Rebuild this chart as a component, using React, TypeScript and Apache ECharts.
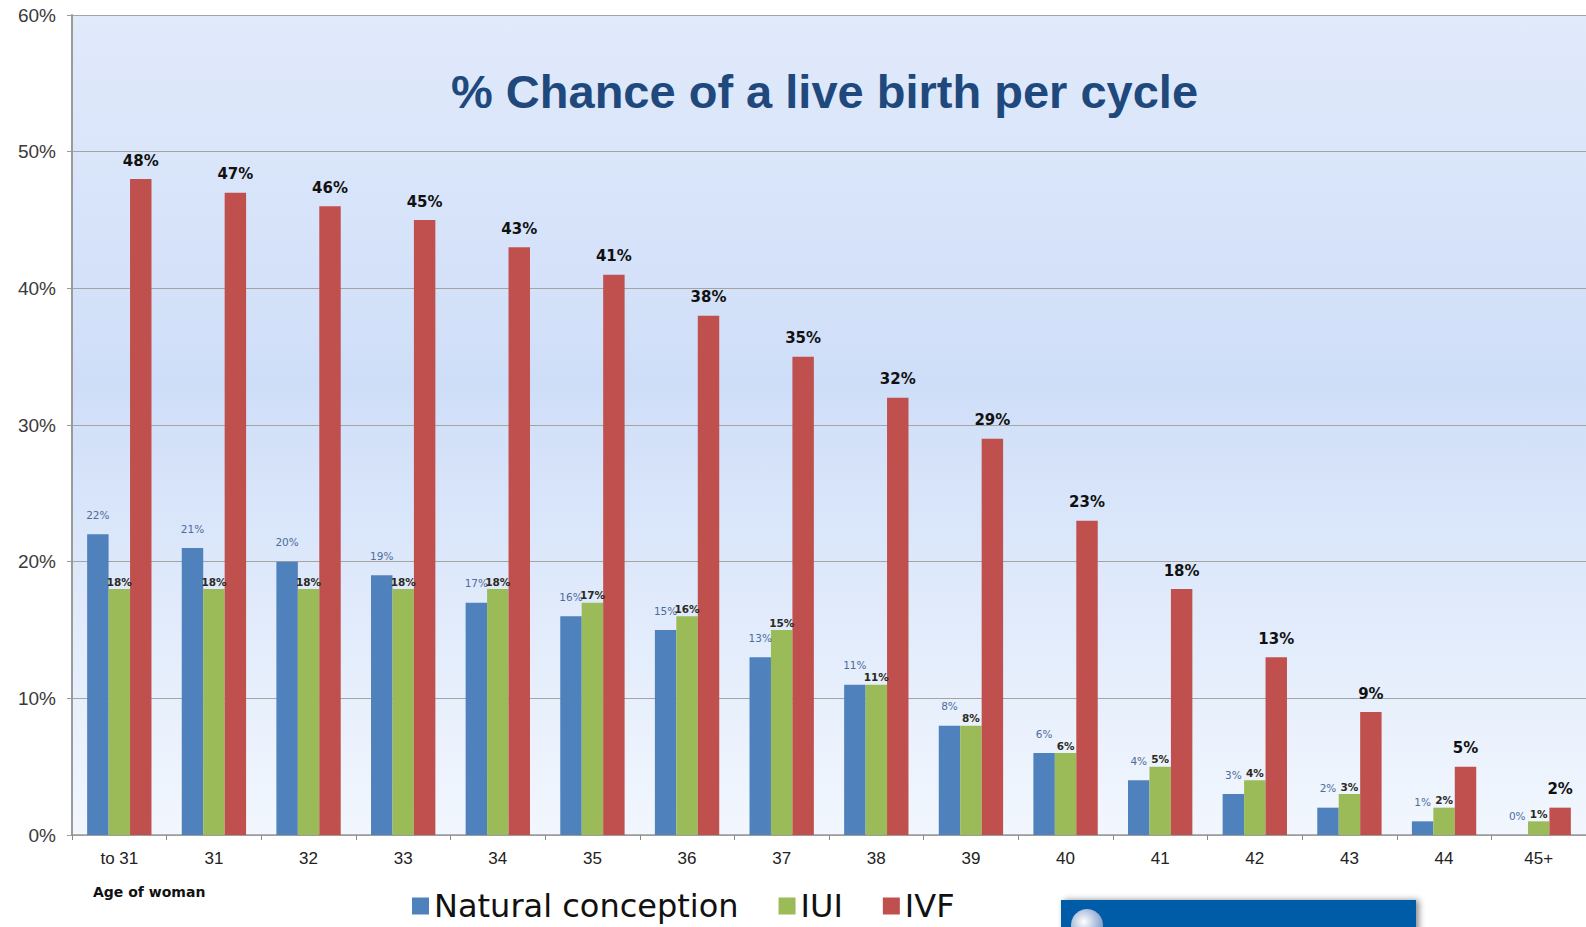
import React, { useEffect, useRef } from "react";
import * as echarts from "echarts";

const ages = ["to 31", "31", "32", "33", "34", "35", "36", "37", "38", "39", "40", "41", "42", "43", "44", "45+"];
const natural = [22, 21, 20, 19, 17, 16, 15, 13, 11, 8, 6, 4, 3, 2, 1, 0];
const iui = [18, 18, 18, 18, 18, 17, 16, 15, 11, 8, 6, 5, 4, 3, 2, 1];
const ivf = [48, 47, 46, 45, 43, 41, 38, 35, 32, 29, 23, 18, 13, 9, 5, 2];
const seriesNames = ["Natural conception", "IUI", "IVF"];
const titleText = "% Chance of a live birth per cycle";
const xAxisTitle = "Age of woman";

export default function App() {
  const ref = useRef<HTMLDivElement>(null);
  useEffect(() => {
    if (!ref.current) return;
    const chart = echarts.init(ref.current, null, { renderer: "svg" });
    const gridBg = new echarts.graphic.LinearGradient(0, 0, 0, 1, [
      { offset: 0, color: "#e1eafb" },
      { offset: 0.45, color: "#cfdef8" },
      { offset: 1, color: "#f2f7fe" },
    ]);
    chart.setOption({
      animation: false,
      backgroundColor: "#ffffff",
      title: {
        text: titleText,
        left: 446,
        top: 63,
        textStyle: {
          fontFamily: "Liberation Sans, Arial, sans-serif",
          fontSize: 47,
          fontWeight: "bold",
          color: "#1f497d",
        },
      },
      legend: {
        data: seriesNames,
        left: 412,
        top: 890,
        icon: "rect",
        itemWidth: 17,
        itemHeight: 17,
        itemGap: 40,
        padding: 0,
        textStyle: { fontFamily: "DejaVu Sans, sans-serif", fontSize: 32, color: "#111111" },
      },
      grid: {
        left: 72,
        right: 0,
        top: 15,
        bottom: 92,
        show: true,
        backgroundColor: gridBg,
        borderWidth: 0,
      },
      xAxis: {
        type: "category",
        data: ages,
        boundaryGap: true,
        axisLine: { show: true, lineStyle: { color: "#9a9a9a", width: 1.5 } },
        axisTick: { show: true, length: 5, interval: 0, lineStyle: { color: "#8a8a8a" } },
        axisLabel: {
          interval: 0,
          margin: 15,
          fontFamily: "Liberation Sans, Arial, sans-serif",
          fontSize: 17,
          color: "#222222",
        },
      },
      yAxis: {
        type: "value",
        min: 0,
        max: 60,
        interval: 10,
        axisLine: { show: true, lineStyle: { color: "#9a9a9a", width: 2 } },
        axisTick: { show: true, length: 5, lineStyle: { color: "#9a9a9a" } },
        axisLabel: {
          formatter: "{value}%",
          margin: 16,
          fontFamily: "Liberation Sans, Arial, sans-serif",
          fontSize: 19,
          color: "#3a3a3a",
        },
        splitLine: { show: true, lineStyle: { color: "#a4a4a4", width: 1 } },
      },
      graphic: [
        {
          type: "text",
          left: 93,
          top: 885,
          style: {
            text: xAxisTitle,
            font: "bold 14px 'DejaVu Sans', sans-serif",
            fill: "#111111",
          },
        },
        {
          type: "rect",
          shape: { x: 1061, y: 900, width: 355, height: 40 },
          style: {
            fill: "#005ba6",
            shadowBlur: 6,
            shadowOffsetX: 3,
            shadowOffsetY: 0,
            shadowColor: "rgba(0,0,0,0.45)",
          },
        },
        {
          type: "circle",
          shape: { cx: 1087, cy: 925, r: 16 },
          style: {
            fill: new echarts.graphic.RadialGradient(0.4, 0.4, 0.7, [
              { offset: 0, color: "#ffffff" },
              { offset: 1, color: "#6f8fc4" },
            ]),
          },
        },
      ],
      series: [
        {
          name: seriesNames[0],
          type: "bar",
          data: natural,
          barGap: "0%",
          barCategoryGap: "32%",
          itemStyle: { color: "#4f81bd" },
          label: {
            show: true,
            position: "top",
            distance: 14,
            formatter: "{c}%",
            fontFamily: "DejaVu Sans, sans-serif",
            fontSize: 10.5,
            color: "#4d6c9c",
          },
        },
        {
          name: seriesNames[1],
          type: "bar",
          data: iui,
          barGap: "0%",
          barCategoryGap: "32%",
          itemStyle: { color: "#9bbb59" },
          label: {
            show: true,
            position: "top",
            distance: 2,
            formatter: "{c}%",
            fontFamily: "DejaVu Sans, sans-serif",
            fontSize: 10.5,
            fontWeight: "bold",
            color: "#2a2a22",
          },
        },
        {
          name: seriesNames[2],
          type: "bar",
          data: ivf,
          barGap: "0%",
          barCategoryGap: "32%",
          itemStyle: { color: "#c0504d" },
          label: {
            show: true,
            position: "top",
            distance: 11,
            formatter: "{c}%",
            fontFamily: "DejaVu Sans, sans-serif",
            fontSize: 15,
            fontWeight: "bold",
            color: "#111111",
          },
        },
      ],
    });
    return () => chart.dispose();
  }, []);
  return (
    <div
      ref={ref}
      style={{ position: "absolute", left: 0, top: 0, width: 1586, height: 927 }}
    />
  );
}
